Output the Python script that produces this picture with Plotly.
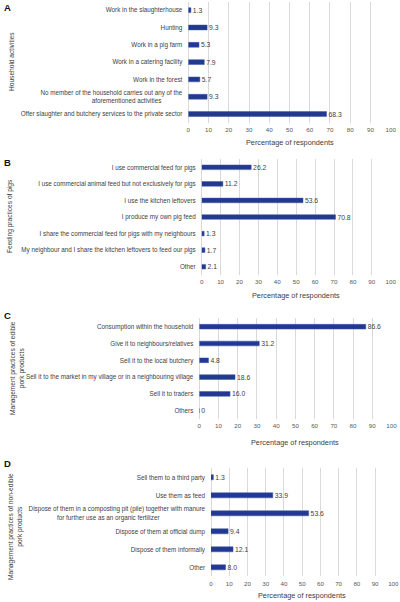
import plotly.graph_objects as go

# ---------------- data ----------------
A_cats = ["Work in the slaughterhouse", "Hunting", "Work in a pig farm",
          "Work in a catering facility", "Work in the forest",
          "No member of the household carries out any of the<br>aforementioned activities\u00a0\u00a0\u00a0\u00a0\u00a0\u00a0\u00a0\u00a0\u00a0\u00a0\u00a0\u00a0",
          "Offer slaughter and butchery services to the private sector"]
A_vals = [1.3, 9.3, 5.3, 7.9, 5.7, 9.3, 68.3]

B_cats = ["I use commercial feed for pigs",
          "I use commercial animal feed but not exclusively for pigs",
          "I use the kitchen leftovers", "I produce my own pig feed",
          "I share the commercial feed for pigs with my neighbours",
          "My neighbour and I share the kitchen leftovers to feed our pigs",
          "Other"]
B_vals = [26.2, 11.2, 53.6, 70.8, 1.3, 1.7, 2.1]

C_cats = ["Consumption within the household", "Give it to neighbours/relatives",
          "Sell it to the local butchery",
          "Sell it to the market in my village or in a neighbouring village",
          "Sell it to traders", "Others"]
C_vals = [86.6, 31.2, 4.8, 18.6, 16.0, 0]

D_cats = ["Sell them to a third party", "Use them as feed",
          "Dispose of them in a composting pit (pile) together with manure<br>for further use as an organic fertilizer\u00a0\u00a0\u00a0\u00a0\u00a0\u00a0\u00a0\u00a0\u00a0\u00a0\u00a0\u00a0\u00a0\u00a0\u00a0\u00a0\u00a0\u00a0\u00a0\u00a0\u00a0\u00a0\u00a0\u00a0\u00a0\u00a0",
          "Dispose of them at official dump", "Dispose of them informally", "Other"]
D_vals = [1.3, 33.9, 53.6, 9.4, 12.1, 8.0]

x_ticks = [0, 10, 20, 30, 40, 50, 60, 70, 80, 90, 100]

panel_letters = ["A", "B", "C", "D"]
y_titles = ["Household activities", "Feeding practices of pigs",
            "Management practices of edible<br>pork products",
            "Management practices of non-edible<br>pork products"]
x_title = "Percentage of respondents"

# ---------------- layout geometry (pixels) ----------------
W, H = 400, 602
FONT = "Liberation Sans"
BAR = "#22398f"
TXT = "#404040"
GRID = "#d9d9d9"

panels = [
    dict(cats=A_cats, vals=A_vals, x0=188.3, x1=390.7, top=1.5, bot=122.7, letter_y=7),
    dict(cats=B_cats, vals=B_vals, x0=201.7, x1=390.7, top=159.0, bot=275.0, letter_y=163),
    dict(cats=C_cats, vals=C_vals, x0=199.3, x1=391.5, top=318.3, bot=419.1, letter_y=315),
    dict(cats=D_cats, vals=D_vals, x0=211.0, x1=393.3, top=468.3, bot=576.3, letter_y=463),
]
title_x = [[11], [10], [12, 22], [10, 20]]
title_yc = [62, 216, 368, 527]
title_gap = [20, 20, 23, 19]

fig = go.Figure()
annotations = []
layout_axes = {}
for i, p in enumerate(panels):
    n = i + 1
    xa = "x" if n == 1 else f"x{n}"
    ya = "y" if n == 1 else f"y{n}"
    xkey = "xaxis" if n == 1 else f"xaxis{n}"
    ykey = "yaxis" if n == 1 else f"yaxis{n}"
    texts = ["\u00a0" + (f"{v:.1f}" if v else "0") for v in p["vals"]]
    fig.add_trace(go.Bar(
        x=p["vals"], y=p["cats"], orientation="h", xaxis=xa, yaxis=ya,
        marker=dict(color=BAR, line=dict(color="#3a56b0", width=0.5)),
        width=0.28, text=texts, textposition="outside", cliponaxis=False,
        constraintext="none",
        textfont=dict(family=FONT, size=6.8, color=TXT), showlegend=False,
        hoverinfo="skip"))
    layout_axes[xkey] = dict(
        domain=[p["x0"] / W, p["x1"] / W], range=[0, 100], tickvals=x_ticks,
        showgrid=True, gridcolor=GRID, gridwidth=1, zeroline=True,
        zerolinecolor=GRID, zerolinewidth=1, showline=False, ticks="",
        tickfont=dict(family=FONT, size=6.2, color="#595959"), anchor=ya,
        ticklabelstandoff=2, fixedrange=True, automargin=False)
    layout_axes[ykey] = dict(
        domain=[1 - p["bot"] / H, 1 - p["top"] / H], autorange="reversed",
        type="category", showgrid=False, zeroline=False, showline=False,
        ticks="", tickfont=dict(family=FONT, size=6.3, color=TXT),
        anchor=xa, ticklabelstandoff=5, fixedrange=True, automargin=False)
    # x axis title
    annotations.append(dict(
        text=x_title, xref="paper", yref="paper",
        x=(p["x0"] + p["x1"]) / 2 / W, y=1 - (p["bot"] + title_gap[i]) / H,
        showarrow=False, xanchor="center", yanchor="middle",
        font=dict(family=FONT, size=7.3, color=TXT)))
    # panel letter
    annotations.append(dict(
        text=f"<b>{panel_letters[i]}</b>", xref="paper", yref="paper",
        x=2 / W, y=1 - p["letter_y"] / H, showarrow=False,
        xanchor="left", yanchor="middle",
        font=dict(family=FONT, size=9.5, color="#111111")))
    # y axis title (rotated)
    xs = title_x[i]
    xc = (xs[0] + xs[-1]) / 2
    annotations.append(dict(
        text=y_titles[i], xref="paper", yref="paper",
        x=xc / W, y=1 - title_yc[i] / H, textangle=-90,
        showarrow=False, xanchor="center", yanchor="middle", align="center",
        font=dict(family=FONT, size=6.6, color=TXT)))

fig.update_layout(
    width=W, height=H, margin=dict(l=0, r=0, t=0, b=0),
    paper_bgcolor="white", plot_bgcolor="white",
    annotations=annotations, **layout_axes)

fig.write_html("out.html", config={"displayModeBar": False},
               post_script="document.body.style.margin='0';"
                           "document.body.style.padding='0';")
